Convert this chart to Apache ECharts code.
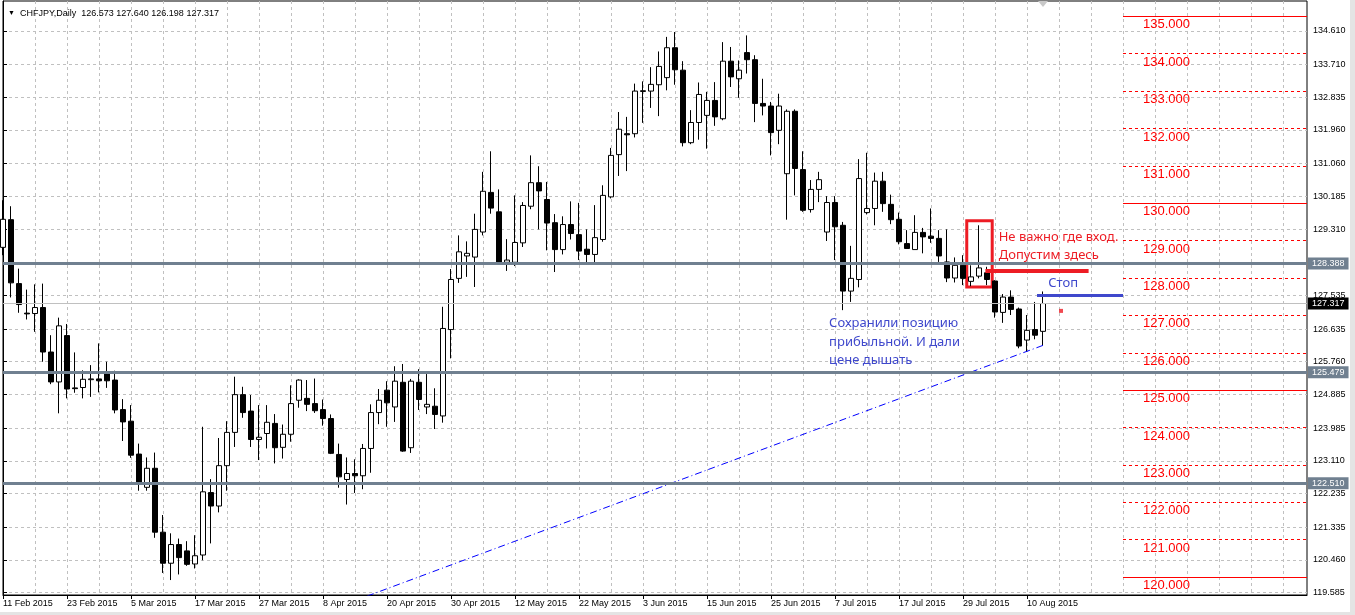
<!DOCTYPE html>
<html>
<head>
<meta charset="utf-8">
<title>CHFJPY, Daily</title>
<script src="https://cdn.jsdelivr.net/npm/echarts@6/dist/echarts.min.js"></script>
<style>
html, body { margin: 0; padding: 0; background: #fff; }
#chart { width: 1355px; height: 615px; }
</style>
</head>
<body>
<div id="chart"></div>
<script>
// daily bars, index 0 = 11 Feb 2015, last = 12 Aug 2015
var opens = [128.82,129.56,127.85,127.06,127.05,127.21,126.02,125.22,126.46,125.06,
    125.07,125.28,125.30,125.45,125.27,124.48,124.17,123.29,122.40,122.91,
    121.20,120.37,120.87,120.70,120.35,120.59,122.26,121.90,122.98,123.87,
    124.88,124.44,123.68,123.84,124.11,123.47,123.82,124.73,124.78,124.64,
    124.48,124.24,123.28,122.61,122.77,122.71,123.44,124.40,125.00,124.55,
    125.21,123.46,125.21,124.55,124.57,124.31,126.62,127.99,128.59,128.56,
    129.23,130.29,129.77,128.42,128.42,128.94,129.92,130.55,130.10,129.48,
    128.76,129.43,129.16,128.77,128.63,129.03,130.17,131.30,131.86,131.86,
    132.99,133.00,133.17,133.36,134.16,133.56,131.62,132.16,132.35,132.75,
    132.26,133.80,133.33,134.03,133.84,132.67,132.60,131.95,130.79,132.46,
    130.90,129.83,130.37,129.23,130.02,129.41,127.65,127.96,129.75,129.86,
    130.59,129.97,129.57,128.92,128.76,129.22,129.12,129.06,128.43,128.00,
    128.34,127.91,128.05,128.14,127.92,127.08,127.49,127.17,126.34,126.62,
    126.573];
var highs = [130.08,129.92,128.25,127.69,127.83,127.85,126.47,126.94,126.77,126.01,
    125.53,125.67,126.25,125.76,125.52,124.76,124.60,123.57,123.20,123.33,
    121.66,121.17,121.03,120.96,121.12,124.02,122.62,123.72,124.17,125.36,
    125.09,124.87,124.60,124.60,124.36,124.08,125.13,125.29,125.27,125.31,
    124.75,124.35,123.57,123.20,123.15,123.56,124.62,125.03,125.24,125.64,
    125.70,125.30,125.56,125.43,125.05,127.23,128.24,129.14,128.98,129.72,
    130.84,131.39,130.37,129.04,130.21,130.03,131.28,130.99,130.57,129.71,
    129.65,130.05,130.01,129.30,129.95,130.48,131.48,132.44,132.31,133.20,
    133.26,133.64,134.06,134.45,134.58,133.80,132.49,133.23,132.98,133.24,
    134.31,134.18,133.82,134.49,133.96,133.33,132.71,132.93,132.51,132.51,
    131.39,130.62,130.84,130.19,130.19,129.50,128.86,131.18,131.35,130.82,
    130.84,130.23,129.75,129.28,129.68,129.34,129.86,129.28,129.30,128.55,
    128.61,128.34,129.41,128.30,127.94,127.57,127.67,127.21,127.01,127.36,
    127.640];
var lows = [128.61,127.48,127.07,126.89,126.56,125.76,125.16,124.38,124.78,124.93,
    124.78,124.82,124.94,125.06,124.38,123.64,123.19,122.31,122.31,121.05,
    120.11,119.92,120.07,120.30,120.23,120.45,120.90,121.73,122.31,123.48,
    124.26,123.48,123.13,123.44,123.04,123.17,123.62,124.53,124.44,124.39,
    124.05,123.29,122.39,121.94,122.25,122.35,122.79,124.09,124.02,124.15,
    123.35,123.32,124.47,124.36,123.96,124.13,125.85,127.87,128.03,127.76,
    129.14,129.72,128.36,128.19,128.32,128.83,129.84,129.30,128.74,128.16,
    128.63,129.03,128.48,128.40,128.40,128.97,130.13,130.73,130.86,131.76,
    132.15,132.55,132.33,133.02,133.17,131.52,131.58,131.70,131.46,132.07,
    132.22,133.11,132.82,133.47,132.17,132.35,131.28,131.58,129.56,130.21,
    129.77,129.75,130.03,128.99,128.48,127.14,127.36,127.75,129.70,129.41,
    129.77,129.44,128.90,128.79,128.76,128.66,128.94,128.43,127.89,127.88,
    127.81,127.78,127.99,127.81,126.94,126.80,127.01,126.12,126.02,126.36,
    126.198];
var closes = [129.57,127.87,127.29,127.04,127.21,126.02,125.22,126.72,125.03,125.04,
    125.29,125.30,125.25,125.25,124.47,124.15,123.26,122.49,122.91,121.20,
    120.37,120.87,120.52,120.34,120.57,122.28,121.90,122.98,123.87,124.88,
    124.40,123.68,123.74,124.14,123.46,123.82,124.64,125.27,124.62,124.45,
    124.24,123.31,122.68,122.77,122.71,123.44,124.40,124.73,124.66,125.24,
    123.37,125.24,124.75,124.62,124.35,126.65,127.96,128.70,128.66,129.30,
    130.32,129.87,128.40,128.48,128.95,129.94,130.55,130.33,129.47,128.76,
    129.43,129.19,128.72,128.63,129.08,130.21,131.28,131.98,131.83,133.00,
    133.01,133.18,133.66,134.16,133.57,131.62,132.16,132.91,132.75,132.31,
    133.80,133.38,133.56,133.84,132.67,132.60,131.89,132.60,132.46,130.93,
    129.81,130.37,130.63,130.02,129.37,127.65,127.99,130.66,129.86,130.59,
    129.99,129.56,128.97,128.79,129.22,129.10,129.06,128.59,128.00,128.34,
    127.99,128.03,128.27,127.96,127.09,127.49,127.16,126.18,126.60,126.47,
    127.317];

var dateLabels = ['11 Feb 2015','23 Feb 2015','5 Mar 2015','17 Mar 2015','27 Mar 2015',
    '8 Apr 2015','20 Apr 2015','30 Apr 2015','12 May 2015','22 May 2015','3 Jun 2015',
    '15 Jun 2015','25 Jun 2015','7 Jul 2015','17 Jul 2015','29 Jul 2015','10 Aug 2015'];
var priceTicks = [134.610,133.710,132.835,131.960,131.060,130.185,129.310,127.535,
    126.635,125.760,124.885,123.985,123.110,122.235,121.335,120.460,119.585];

var levelPrices = [135,134,133,132,131,130,129,128,127,126,125,124,123,122,121,120];
var supportLevels = [128.388, 125.479, 122.510];
var bidPrice = 127.317;

// hand-drawn marks (x = bar index, y = price)
var trendLine = [[45.5, 119.49], [130, 126.198]];
var entryBox = [[120.47, 129.53], [123.65, 127.76]];
var entryLine = [[122.8, 128.20], [135.7, 128.20]];
var stopLine = [[129.25, 127.55], [140, 127.55]];
var redDot = [[132.25, 127.12]];
var notes = [
    { x: 124.4, y: 129.10, text: 'Не важно где вход.', color: '#ed1c24' },
    { x: 124.4, y: 128.62, text: 'Допустим здесь', color: '#ed1c24' },
    { x: 130.6, y: 127.87, text: 'Стоп', color: '#3f48cc' },
    { x: 103.2, y: 126.79, text: 'Сохранили позицию', color: '#3f48cc' },
    { x: 103.2, y: 126.28, text: 'прибыльной. И дали', color: '#3f48cc' },
    { x: 103.2, y: 125.80, text: 'цене дышать', color: '#3f48cc' }
];

var slotCount = 164;
var slots = [];
for (var i = 0; i < slotCount; i++) slots.push(String(i));

var candles = opens.map(function (o, i) {
    return [o, closes[i], lows[i], highs[i]];
});

var font = '"Liberation Sans", Arial, sans-serif';
var noteFont = '"Noto Sans", "Liberation Sans", sans-serif';

var levelLines = levelPrices.map(function (p) {
    var style = { color: '#ff0000', width: 1, type: p % 5 === 0 ? 'solid' : [3, 3] };
    return [
        { coord: [140, p], lineStyle: style,
          label: { show: true, position: 'insideStartBottom', distance: 2, formatter: p.toFixed(3),
                   color: '#ff0000', fontSize: 13, fontFamily: font, padding: [0, 0, 0, 18] } },
        { coord: [163, p], lineStyle: style }
    ];
});

var supportLines = supportLevels.map(function (p) {
    return {
        yAxis: p,
        lineStyle: { color: '#708090', width: 3, type: 'solid' },
        label: { show: true, position: 'end', distance: 1, formatter: p.toFixed(3),
                 backgroundColor: '#708090', color: '#fff', padding: [2, 4, 1, 4],
                 fontSize: 9, fontFamily: font }
    };
});

var bidLine = {
    yAxis: bidPrice,
    lineStyle: { color: '#c0c0c0', width: 1, type: 'solid' },
    label: { show: true, position: 'end', distance: 1, formatter: bidPrice.toFixed(3),
             backgroundColor: '#000', color: '#fff', padding: [2, 4, 1, 4],
             fontSize: 9, fontFamily: font }
};

var chart = echarts.init(document.getElementById('chart'));
chart.setOption({
    animation: false,
    backgroundColor: '#fff',
    title: {
        text: '{t|▼}  CHFJPY,Daily  126.573 127.640 126.198 127.317',
        left: 3,
        top: 4,
        textStyle: {
            fontSize: 9,
            fontWeight: 'normal',
            color: '#000',
            fontFamily: font,
            rich: { t: { fontSize: 7, color: '#000' } }
        }
    },
    grid: {
        left: 1, right: 48, top: 1, bottom: 20,
        show: true, borderColor: '#000', borderWidth: 1
    },
    xAxis: [
        {
            type: 'category',
            data: slots,
            boundaryGap: false,
            axisLine: { lineStyle: { color: '#000' } },
            axisTick: {
                interval: function (i) { return i % 8 === 0 && i <= 128; },
                length: 4,
                lineStyle: { color: '#000' }
            },
            axisLabel: {
                interval: function (i) { return i % 8 === 0 && i <= 128; },
                formatter: function (v, i) { return dateLabels[i / 8] || ''; },
                align: 'left',
                margin: 4,
                fontSize: 9,
                color: '#000',
                fontFamily: font
            },
            splitLine: {
                show: true,
                interval: function (i) { return i % 4 === 0; },
                lineStyle: { color: '#c0c0c0', type: [3, 3] }
            }
        },
        { type: 'value', min: 0, max: slotCount - 1, show: false }
    ],
    yAxis: {
        type: 'value',
        position: 'right',
        min: 119.52,
        max: 135.41,
        axisLine: { show: true, lineStyle: { color: '#000' } },
        axisTick: { show: true, customValues: priceTicks, length: 4, lineStyle: { color: '#000' } },
        axisLabel: {
            customValues: priceTicks,
            formatter: function (v) { return v.toFixed(3); },
            margin: 6,
            fontSize: 9,
            color: '#000',
            fontFamily: font
        },
        splitLine: { show: true, lineStyle: { color: '#c0c0c0', type: [3, 3] } }
    },
    series: [
        {
            type: 'candlestick',
            data: candles,
            barWidth: 5,
            z: 2,
            itemStyle: {
                color: '#fff', color0: '#000',
                borderColor: '#000', borderColor0: '#000', borderWidth: 1
            }
        },
        {
            type: 'line',
            xAxisIndex: 1,
            data: trendLine,
            symbol: 'none',
            z: 4,
            lineStyle: { color: '#0000ff', width: 1, type: [7, 3, 1, 3] },
            markLine: {
                symbol: ['none', 'none'],
                silent: true,
                data: supportLines.concat([bidLine]).concat(levelLines).concat([
                    [{ coord: entryLine[0], lineStyle: { color: '#ed1c24', width: 4, type: 'solid' }, label: { show: false } },
                     { coord: entryLine[1] }],
                    [{ coord: stopLine[0], lineStyle: { color: '#3f48cc', width: 3, type: 'solid' }, label: { show: false } },
                     { coord: stopLine[1] }]
                ])
            },
            markArea: {
                silent: true,
                itemStyle: { color: 'rgba(0,0,0,0)', borderColor: '#ed1c24', borderWidth: 3 },
                data: [[{ coord: entryBox[0] }, { coord: entryBox[1] }]]
            }
        },
        {
            type: 'scatter',
            xAxisIndex: 1,
            data: redDot,
            symbol: 'rect',
            symbolSize: 4,
            z: 5,
            itemStyle: { color: '#ed1c24' },
            markPoint: {
                silent: true,
                symbol: 'circle',
                symbolSize: 1,
                itemStyle: { color: 'rgba(0,0,0,0)' },
                data: notes.map(function (n) {
                    return {
                        coord: [n.x, n.y],
                        label: { show: true, position: 'right', distance: 0, formatter: n.text,
                                 color: n.color, fontSize: 13, fontFamily: noteFont }
                    };
                })
            }
        }
    ],
    graphic: [
        { type: 'polygon', shape: { points: [[1038, 1], [1048, 1], [1043, 7]] }, style: { fill: '#c8c8c8' }, silent: true },
        { type: 'rect', shape: { x: 1350, y: 0, width: 5, height: 615 }, style: { fill: '#e4e4e4' }, silent: true },
        { type: 'rect', shape: { x: 0, y: 612, width: 1355, height: 3 }, style: { fill: '#e4e4e4' }, silent: true }
    ]
});
</script>
</body>
</html>
